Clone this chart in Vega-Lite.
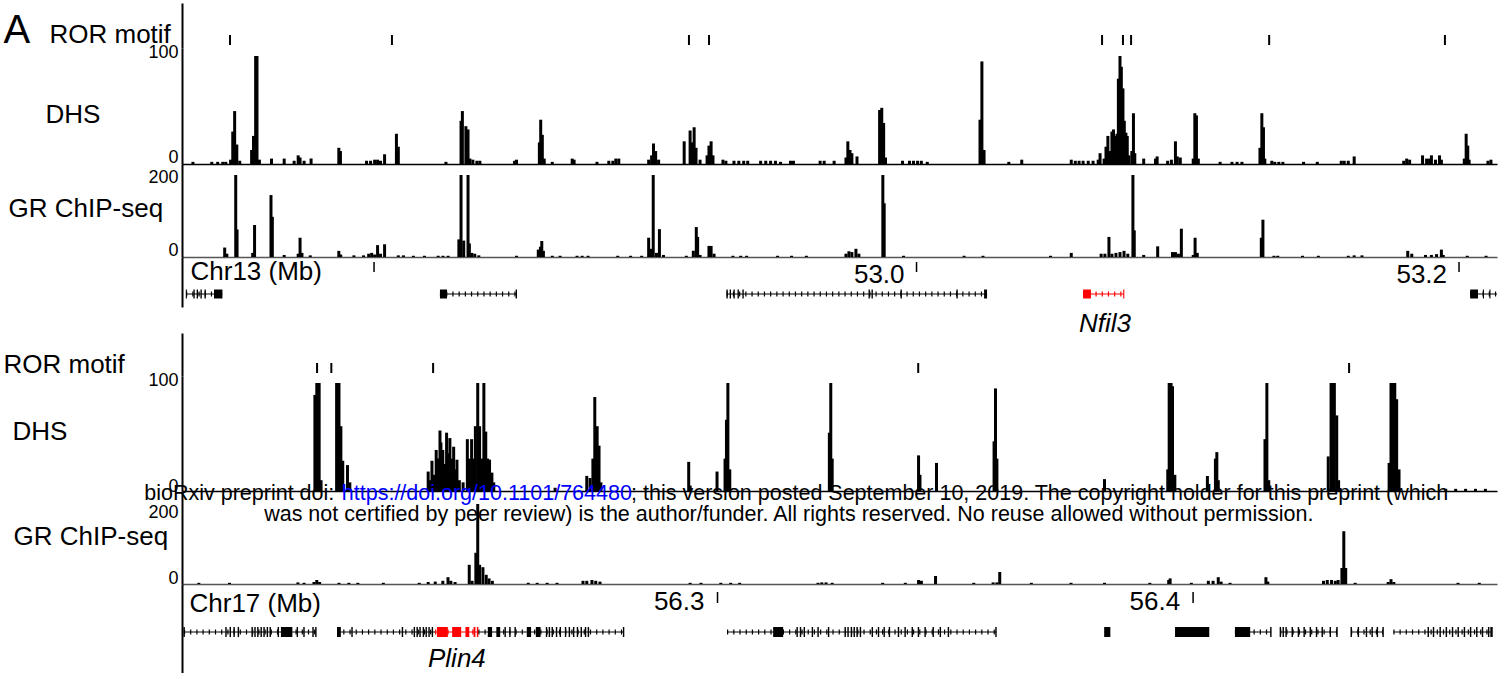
{
"$schema":"https://vega.github.io/schema/vega-lite/v6.json",
"padding":{"left":3,"top":3,"right":5,"bottom":0},
"background":"white",
"bounds":"flush",
"spacing":0,
"resolve":{"scale":{"x":"independent","y":"independent"},"axis":{"x":"independent","y":"independent"}},
"config":{"font":"Liberation Sans","view":{"stroke":null},"axis":{"grid":false,"ticks":false,"tickSize":0,"labelColor":"black","titleColor":"black","titleFontWeight":"normal","domainColor":"black"}},
"datasets":{
"motif13":[{"p":52746.9},{"p":52806.6},{"p":52916.1},{"p":52923.5},{"p":53068.4},{"p":53076.1},{"p":53079.1},{"p":53130.0},{"p":53194.8}],
"motif17":[{"p":56215.8},{"p":56218.8},{"p":56240.2},{"p":56342.2},{"p":56432.8}],
"dhs13":[{"p":52731.4,"v":2},{"p":52738.4,"v":2},{"p":52740.6,"v":2},{"p":52742.5,"v":2},{"p":52743.6,"v":2},{"p":52745.4,"v":4},{"p":52746.2,"v":30},{"p":52746.9,"v":49},{"p":52747.7,"v":18},{"p":52748.8,"v":3},{"p":52753.2,"v":13},{"p":52753.9,"v":26},{"p":52754.7,"v":100},{"p":52755.2,"v":100},{"p":52756.1,"v":4},{"p":52760.6,"v":5},{"p":52765.3,"v":5},{"p":52769.0,"v":3},{"p":52770.5,"v":8},{"p":52771.2,"v":6},{"p":52772.7,"v":3},{"p":52775.3,"v":5},{"p":52785.6,"v":15},{"p":52786.2,"v":12},{"p":52795.9,"v":3},{"p":52797.4,"v":3},{"p":52798.9,"v":4},{"p":52800.0,"v":4},{"p":52801.1,"v":3},{"p":52802.6,"v":9},{"p":52807.0,"v":28},{"p":52807.7,"v":16},{"p":52825.4,"v":2},{"p":52831.0,"v":40},{"p":52831.5,"v":49},{"p":52832.8,"v":35},{"p":52833.6,"v":32},{"p":52834.3,"v":5},{"p":52835.4,"v":4},{"p":52836.9,"v":3},{"p":52838.0,"v":3},{"p":52850.9,"v":3},{"p":52851.6,"v":4},{"p":52860.1,"v":20},{"p":52860.6,"v":41},{"p":52861.2,"v":27},{"p":52861.9,"v":5},{"p":52864.9,"v":2},{"p":52872.3,"v":5},{"p":52873.0,"v":4},{"p":52881.5,"v":2},{"p":52885.9,"v":3},{"p":52887.4,"v":3},{"p":52888.5,"v":5},{"p":52889.6,"v":5},{"p":52900.7,"v":4},{"p":52901.8,"v":8},{"p":52902.5,"v":19},{"p":52903.3,"v":12},{"p":52904.4,"v":4},{"p":52913.9,"v":21},{"p":52916.1,"v":31},{"p":52916.9,"v":20},{"p":52917.6,"v":34},{"p":52918.3,"v":15},{"p":52919.8,"v":4},{"p":52922.4,"v":8},{"p":52923.1,"v":17},{"p":52923.9,"v":21},{"p":52924.6,"v":8},{"p":52928.3,"v":4},{"p":52929.4,"v":3},{"p":52932.4,"v":3},{"p":52934.2,"v":3},{"p":52936.0,"v":3},{"p":52937.5,"v":3},{"p":52942.3,"v":3},{"p":52944.2,"v":3},{"p":52946.0,"v":3},{"p":52947.8,"v":3},{"p":52949.7,"v":2},{"p":52953.4,"v":3},{"p":52954.5,"v":3},{"p":52964.4,"v":3},{"p":52965.9,"v":3},{"p":52969.6,"v":3},{"p":52974.0,"v":6},{"p":52974.7,"v":21},{"p":52975.5,"v":13},{"p":52976.2,"v":10},{"p":52978.1,"v":7},{"p":52986.5,"v":50},{"p":52987.3,"v":52},{"p":52988.0,"v":38},{"p":52988.7,"v":6},{"p":52995.0,"v":3},{"p":52997.6,"v":3},{"p":52999.1,"v":3},{"p":53000.6,"v":3},{"p":53002.0,"v":3},{"p":53004.2,"v":2},{"p":53023.8,"v":41},{"p":53024.5,"v":95},{"p":53025.3,"v":13},{"p":53034.5,"v":2},{"p":53039.3,"v":4},{"p":53057.7,"v":4},{"p":53059.2,"v":3},{"p":53060.6,"v":3},{"p":53062.1,"v":3},{"p":53064.0,"v":3},{"p":53065.8,"v":3},{"p":53067.7,"v":4},{"p":53068.4,"v":10},{"p":53069.9,"v":5},{"p":53070.6,"v":16},{"p":53071.3,"v":26},{"p":53072.1,"v":12},{"p":53072.8,"v":30},{"p":53073.4,"v":32},{"p":53073.9,"v":26},{"p":53074.7,"v":28},{"p":53075.2,"v":79},{"p":53075.8,"v":100},{"p":53076.3,"v":90},{"p":53076.9,"v":70},{"p":53077.4,"v":40},{"p":53078.0,"v":29},{"p":53078.5,"v":26},{"p":53079.1,"v":8},{"p":53080.2,"v":12},{"p":53080.8,"v":47},{"p":53081.3,"v":10},{"p":53084.6,"v":5},{"p":53089.0,"v":5},{"p":53089.6,"v":7},{"p":53093.5,"v":3},{"p":53094.9,"v":4},{"p":53096.4,"v":21},{"p":53097.1,"v":7},{"p":53098.2,"v":6},{"p":53103.0,"v":5},{"p":53103.6,"v":47},{"p":53104.2,"v":45},{"p":53104.9,"v":5},{"p":53113.0,"v":2},{"p":53117.4,"v":2},{"p":53119.3,"v":2},{"p":53121.1,"v":2},{"p":53127.8,"v":15},{"p":53128.5,"v":47},{"p":53129.1,"v":34},{"p":53129.6,"v":5},{"p":53132.2,"v":3},{"p":53133.3,"v":2},{"p":53134.8,"v":2},{"p":53136.3,"v":2},{"p":53144.0,"v":2},{"p":53149.1,"v":2},{"p":53158.0,"v":3},{"p":53159.1,"v":3},{"p":53160.6,"v":3},{"p":53162.8,"v":7},{"p":53181.2,"v":3},{"p":53182.3,"v":5},{"p":53183.4,"v":4},{"p":53188.2,"v":8},{"p":53189.7,"v":5},{"p":53190.8,"v":5},{"p":53191.5,"v":8},{"p":53193.0,"v":4},{"p":53194.5,"v":8},{"p":53195.2,"v":4},{"p":53203.7,"v":5},{"p":53204.4,"v":28},{"p":53205.0,"v":17},{"p":53205.5,"v":4},{"p":53212.5,"v":3},{"p":53213.6,"v":4}],
"gr13":[{"p":52743.2,"v":23},{"p":52744.0,"v":8},{"p":52747.3,"v":200},{"p":52747.8,"v":67},{"p":52753.6,"v":10},{"p":52754.3,"v":78},{"p":52760.4,"v":151},{"p":52760.9,"v":98},{"p":52765.3,"v":5},{"p":52770.5,"v":8},{"p":52771.2,"v":47},{"p":52771.9,"v":10},{"p":52775.0,"v":4},{"p":52785.6,"v":15},{"p":52786.3,"v":6},{"p":52791.2,"v":4},{"p":52794.8,"v":4},{"p":52796.7,"v":8},{"p":52797.8,"v":10},{"p":52798.9,"v":6},{"p":52800.0,"v":29},{"p":52801.1,"v":8},{"p":52802.6,"v":31},{"p":52807.7,"v":4},{"p":52809.6,"v":4},{"p":52813.3,"v":3},{"p":52817.4,"v":3},{"p":52822.5,"v":3},{"p":52824.3,"v":3},{"p":52826.2,"v":3},{"p":52830.2,"v":43},{"p":52831.0,"v":200},{"p":52832.0,"v":40},{"p":52833.6,"v":200},{"p":52834.1,"v":33},{"p":52835.0,"v":10},{"p":52836.1,"v":8},{"p":52837.6,"v":4},{"p":52851.6,"v":3},{"p":52859.7,"v":18},{"p":52860.5,"v":25},{"p":52861.0,"v":39},{"p":52861.6,"v":15},{"p":52864.9,"v":3},{"p":52867.8,"v":3},{"p":52874.1,"v":3},{"p":52876.0,"v":3},{"p":52878.2,"v":3},{"p":52889.2,"v":3},{"p":52894.0,"v":3},{"p":52898.1,"v":3},{"p":52900.7,"v":47},{"p":52901.4,"v":20},{"p":52902.4,"v":200},{"p":52903.6,"v":10},{"p":52904.7,"v":68},{"p":52906.2,"v":5},{"p":52914.7,"v":3},{"p":52917.3,"v":15},{"p":52918.4,"v":73},{"p":52918.9,"v":49},{"p":52919.8,"v":5},{"p":52923.1,"v":27},{"p":52923.9,"v":27},{"p":52925.0,"v":8},{"p":52932.0,"v":3},{"p":52934.9,"v":3},{"p":52937.1,"v":3},{"p":52948.6,"v":3},{"p":52953.8,"v":3},{"p":52959.3,"v":3},{"p":52974.0,"v":8},{"p":52975.1,"v":14},{"p":52976.2,"v":12},{"p":52977.7,"v":20},{"p":52978.8,"v":8},{"p":52987.7,"v":200},{"p":52988.2,"v":131},{"p":52995.4,"v":3},{"p":53017.9,"v":3},{"p":53024.9,"v":3},{"p":53050.0,"v":3},{"p":53057.7,"v":10},{"p":53068.8,"v":8},{"p":53070.2,"v":8},{"p":53071.7,"v":49},{"p":53072.8,"v":8},{"p":53074.3,"v":10},{"p":53075.8,"v":12},{"p":53077.3,"v":15},{"p":53078.7,"v":8},{"p":53080.6,"v":200},{"p":53081.1,"v":65},{"p":53084.6,"v":5},{"p":53089.8,"v":26},{"p":53095.3,"v":12},{"p":53096.4,"v":12},{"p":53097.5,"v":8},{"p":53098.6,"v":69},{"p":53103.0,"v":5},{"p":53103.7,"v":47},{"p":53104.5,"v":10},{"p":53128.3,"v":47},{"p":53128.9,"v":91},{"p":53133.0,"v":3},{"p":53134.4,"v":3},{"p":53143.6,"v":3},{"p":53149.5,"v":3},{"p":53160.6,"v":3},{"p":53162.8,"v":4},{"p":53165.7,"v":4},{"p":53182.7,"v":15},{"p":53184.2,"v":8},{"p":53189.3,"v":5},{"p":53191.5,"v":5},{"p":53193.4,"v":7},{"p":53195.2,"v":18},{"p":53195.9,"v":5},{"p":53204.8,"v":3},{"p":53211.8,"v":3}],
"dhs17":[{"p":56214.5,"v":89},{"p":56214.9,"v":100},{"p":56215.4,"v":100},{"p":56215.8,"v":10},{"p":56219.1,"v":100},{"p":56219.6,"v":100},{"p":56220.0,"v":60},{"p":56220.4,"v":28},{"p":56221.4,"v":24},{"p":56221.9,"v":8},{"p":56238.5,"v":18},{"p":56238.9,"v":10},{"p":56239.3,"v":28},{"p":56239.8,"v":15},{"p":56240.2,"v":38},{"p":56240.6,"v":30},{"p":56241.0,"v":56},{"p":56241.2,"v":45},{"p":56241.6,"v":38},{"p":56242.1,"v":25},{"p":56242.4,"v":54},{"p":56242.7,"v":35},{"p":56243.1,"v":49},{"p":56243.5,"v":30},{"p":56243.9,"v":41},{"p":56244.2,"v":20},{"p":56244.6,"v":29},{"p":56245.1,"v":10},{"p":56245.9,"v":8},{"p":56246.8,"v":48},{"p":56247.2,"v":30},{"p":56247.7,"v":48},{"p":56248.1,"v":30},{"p":56248.5,"v":60},{"p":56249.0,"v":100},{"p":56249.4,"v":60},{"p":56249.8,"v":30},{"p":56250.3,"v":100},{"p":56250.7,"v":55},{"p":56251.1,"v":30},{"p":56251.5,"v":29},{"p":56252.0,"v":17},{"p":56252.4,"v":8},{"p":56265.4,"v":3},{"p":56272.1,"v":14},{"p":56272.8,"v":12},{"p":56273.4,"v":30},{"p":56273.8,"v":87},{"p":56274.3,"v":60},{"p":56274.7,"v":42},{"p":56275.1,"v":8},{"p":56293.7,"v":27},{"p":56294.0,"v":5},{"p":56299.7,"v":18},{"p":56301.4,"v":30},{"p":56301.7,"v":66},{"p":56302.0,"v":100},{"p":56302.4,"v":20},{"p":56323.5,"v":54},{"p":56323.8,"v":100},{"p":56324.1,"v":30},{"p":56342.4,"v":33},{"p":56342.7,"v":15},{"p":56346.2,"v":26},{"p":56358.4,"v":46},{"p":56358.7,"v":95},{"p":56359.0,"v":30},{"p":56381.8,"v":11},{"p":56395.2,"v":20},{"p":56395.5,"v":100},{"p":56395.9,"v":100},{"p":56396.2,"v":97},{"p":56396.7,"v":15},{"p":56403.6,"v":14},{"p":56405.3,"v":30},{"p":56405.6,"v":36},{"p":56405.9,"v":10},{"p":56415.8,"v":48},{"p":56416.2,"v":100},{"p":56416.6,"v":10},{"p":56429.2,"v":32},{"p":56429.8,"v":100},{"p":56430.1,"v":100},{"p":56430.5,"v":100},{"p":56431.0,"v":70},{"p":56431.4,"v":10},{"p":56442.1,"v":26},{"p":56442.5,"v":100},{"p":56442.9,"v":100},{"p":56443.3,"v":100},{"p":56443.7,"v":85},{"p":56444.2,"v":20},{"p":56454.1,"v":2},{"p":56456.2,"v":2},{"p":56458.3,"v":2},{"p":56460.4,"v":2},{"p":56462.5,"v":2}],
"gr17":[{"p":56189.9,"v":3},{"p":56196.4,"v":3},{"p":56210.9,"v":4},{"p":56212.2,"v":3},{"p":56214.3,"v":5},{"p":56214.9,"v":10},{"p":56215.5,"v":5},{"p":56219.6,"v":3},{"p":56221.7,"v":3},{"p":56223.6,"v":3},{"p":56229.0,"v":3},{"p":56236.6,"v":3},{"p":56238.5,"v":5},{"p":56240.0,"v":6},{"p":56241.6,"v":8},{"p":56242.7,"v":17},{"p":56243.3,"v":8},{"p":56244.2,"v":5},{"p":56247.2,"v":48},{"p":56247.8,"v":8},{"p":56248.6,"v":78},{"p":56249.0,"v":200},{"p":56249.4,"v":48},{"p":56250.1,"v":42},{"p":56250.8,"v":23},{"p":56251.4,"v":14},{"p":56252.1,"v":8},{"p":56259.7,"v":3},{"p":56261.6,"v":3},{"p":56263.7,"v":3},{"p":56265.8,"v":3},{"p":56271.3,"v":8},{"p":56272.1,"v":8},{"p":56273.2,"v":10},{"p":56274.0,"v":8},{"p":56274.9,"v":6},{"p":56294.0,"v":3},{"p":56296.3,"v":3},{"p":56300.5,"v":3},{"p":56302.6,"v":3},{"p":56304.5,"v":3},{"p":56321.1,"v":3},{"p":56321.9,"v":4},{"p":56322.8,"v":4},{"p":56324.1,"v":3},{"p":56334.8,"v":3},{"p":56339.6,"v":3},{"p":56342.4,"v":10},{"p":56343.0,"v":8},{"p":56346.0,"v":20},{"p":56354.1,"v":3},{"p":56358.2,"v":4},{"p":56359.0,"v":4},{"p":56359.6,"v":30},{"p":56366.3,"v":3},{"p":56374.7,"v":3},{"p":56381.8,"v":3},{"p":56391.4,"v":3},{"p":56395.4,"v":10},{"p":56395.7,"v":14},{"p":56400.2,"v":3},{"p":56403.8,"v":8},{"p":56404.8,"v":8},{"p":56405.9,"v":17},{"p":56406.5,"v":6},{"p":56408.4,"v":3},{"p":56416.0,"v":17},{"p":56416.4,"v":6},{"p":56428.2,"v":8},{"p":56429.0,"v":10},{"p":56429.9,"v":10},{"p":56430.7,"v":8},{"p":56431.3,"v":10},{"p":56432.1,"v":40},{"p":56432.5,"v":132},{"p":56432.9,"v":40},{"p":56434.9,"v":3},{"p":56441.9,"v":5},{"p":56442.5,"v":12},{"p":56443.1,"v":5},{"p":56456.7,"v":3},{"p":56461.2,"v":3}],
"intron13":[{"s":52730.7,"e":52744.1,"g":"a"},{"s":52824.3,"e":52852.7,"g":"b"},{"s":52930.0,"e":53026.0,"g":"c"},{"s":53061.4,"e":53076.5,"g":"Nfil3"},{"s":53204.1,"e":53214.0,"g":"d"}],
"exon13":[{"s":52730.6,"e":52731.0,"g":"a"},{"s":52733.4,"e":52733.9,"g":"a"},{"s":52734.6,"e":52735.1,"g":"a"},{"s":52736.0,"e":52736.5,"g":"a"},{"s":52737.5,"e":52738.0,"g":"a"},{"s":52741.0,"e":52744.1,"g":"a"},{"s":52824.3,"e":52826.9,"g":"b"},{"s":52852.2,"e":52852.7,"g":"b"},{"s":52929.9,"e":52930.4,"g":"c"},{"s":52931.1,"e":52931.6,"g":"c"},{"s":52932.5,"e":52933.0,"g":"c"},{"s":52934.0,"e":52934.5,"g":"c"},{"s":52935.8,"e":52936.3,"g":"c"},{"s":52982.3,"e":52982.8,"g":"c"},{"s":52983.4,"e":52983.9,"g":"c"},{"s":52994.1,"e":52994.6,"g":"c"},{"s":53014.7,"e":53015.2,"g":"c"},{"s":53024.9,"e":53026.0,"g":"c"},{"s":53061.4,"e":53064.3,"g":"Nfil3"},{"s":53076.2,"e":53076.6,"g":"Nfil3"},{"s":53204.1,"e":53207.0,"g":"d"},{"s":53208.8,"e":53209.2,"g":"d"},{"s":53211.2,"e":53211.6,"g":"d"}],
"ticks13":[{"s":52800,"l":""},{"s":53000,"l":"53.0"},{"s":53200,"l":"53.2"}],
"intron17":[{"s":56187.8,"e":56215.6,"g":"a"},{"s":56220.0,"e":56240.6,"g":"b"},{"s":56240.6,"e":56249.7,"g":"Plin4"},{"s":56249.7,"e":56280.3,"g":"b"},{"s":56302.0,"e":56358.6,"g":"c"},{"s":56408.8,"e":56416.4,"g":"d"},{"s":56418.3,"e":56430.3,"g":"e"},{"s":56433.2,"e":56439.9,"g":"f"},{"s":56442.1,"e":56462.8,"g":"h"}],
"exon17":[{"s":56187.7,"e":56188.0,"g":"a"},{"s":56196.5,"e":56196.8,"g":"a"},{"s":56197.4,"e":56197.7,"g":"a"},{"s":56198.2,"e":56198.5,"g":"a"},{"s":56199.1,"e":56199.4,"g":"a"},{"s":56202.0,"e":56202.3,"g":"a"},{"s":56202.6,"e":56202.9,"g":"a"},{"s":56203.2,"e":56203.5,"g":"a"},{"s":56203.9,"e":56204.2,"g":"a"},{"s":56204.5,"e":56204.8,"g":"a"},{"s":56205.2,"e":56205.5,"g":"a"},{"s":56205.8,"e":56206.1,"g":"a"},{"s":56207.5,"e":56207.8,"g":"a"},{"s":56208.2,"e":56210.6,"g":"a"},{"s":56211.5,"e":56211.8,"g":"a"},{"s":56212.9,"e":56213.2,"g":"a"},{"s":56214.8,"e":56215.1,"g":"a"},{"s":56215.4,"e":56215.7,"g":"a"},
{"s":56220.0,"e":56220.8,"g":"b"},{"s":56223.0,"e":56223.3,"g":"b"},{"s":56233.6,"e":56233.9,"g":"b"},{"s":56236.1,"e":56236.4,"g":"b"},{"s":56236.7,"e":56237.0,"g":"b"},{"s":56237.3,"e":56237.6,"g":"b"},{"s":56238.0,"e":56238.3,"g":"b"},{"s":56238.6,"e":56238.9,"g":"b"},{"s":56239.2,"e":56239.5,"g":"b"},{"s":56239.9,"e":56240.2,"g":"b"},{"s":56241.0,"e":56243.3,"g":"Plin4"},{"s":56244.2,"e":56246.1,"g":"Plin4"},{"s":56247.0,"e":56247.8,"g":"Plin4"},{"s":56248.7,"e":56249.1,"g":"Plin4"},{"s":56249.4,"e":56249.7,"g":"Plin4"},{"s":56251.7,"e":56252.6,"g":"b"},{"s":56253.5,"e":56254.3,"g":"b"},{"s":56255.2,"e":56255.5,"g":"b"},{"s":56256.2,"e":56256.5,"g":"b"},{"s":56257.3,"e":56257.6,"g":"b"},{"s":56259.9,"e":56260.8,"g":"b"},{"s":56261.8,"e":56262.8,"g":"b"},{"s":56263.9,"e":56264.2,"g":"b"},{"s":56264.5,"e":56264.8,"g":"b"},{"s":56265.1,"e":56265.4,"g":"b"},{"s":56266.0,"e":56266.3,"g":"b"},{"s":56266.8,"e":56267.1,"g":"b"},{"s":56267.9,"e":56268.2,"g":"b"},{"s":56268.7,"e":56269.0,"g":"b"},{"s":56269.6,"e":56269.9,"g":"b"},{"s":56270.4,"e":56270.7,"g":"b"},{"s":56271.2,"e":56271.5,"g":"b"},{"s":56272.1,"e":56272.4,"g":"b"},{"s":56272.7,"e":56273.0,"g":"b"},{"s":56280.1,"e":56280.4,"g":"b"},
{"s":56311.7,"e":56313.8,"g":"c"},{"s":56316.6,"e":56316.9,"g":"c"},{"s":56317.3,"e":56317.6,"g":"c"},{"s":56318.1,"e":56318.4,"g":"c"},{"s":56319.8,"e":56320.1,"g":"c"},{"s":56321.0,"e":56321.3,"g":"c"},{"s":56323.2,"e":56323.5,"g":"c"},{"s":56326.7,"e":56327.0,"g":"c"},{"s":56327.3,"e":56327.6,"g":"c"},{"s":56328.0,"e":56328.3,"g":"c"},{"s":56328.6,"e":56328.9,"g":"c"},{"s":56329.2,"e":56329.5,"g":"c"},{"s":56329.9,"e":56330.2,"g":"c"},{"s":56332.4,"e":56332.7,"g":"c"},{"s":56333.7,"e":56334.0,"g":"c"},{"s":56334.9,"e":56335.2,"g":"c"},{"s":56336.0,"e":56336.3,"g":"c"},{"s":56337.9,"e":56338.2,"g":"c"},{"s":56339.3,"e":56339.6,"g":"c"},{"s":56340.8,"e":56341.1,"g":"c"},{"s":56342.1,"e":56342.4,"g":"c"},{"s":56343.5,"e":56343.8,"g":"c"},{"s":56345.2,"e":56345.5,"g":"c"},{"s":56346.7,"e":56347.0,"g":"c"},{"s":56348.4,"e":56348.7,"g":"c"},{"s":56358.4,"e":56358.7,"g":"c"},
{"s":56381.3,"e":56382.6,"g":"x"},{"s":56396.2,"e":56403.4,"g":"y"},
{"s":56408.8,"e":56412.0,"g":"d"},{"s":56416.2,"e":56416.5,"g":"d"},
{"s":56418.2,"e":56418.5,"g":"e"},{"s":56418.8,"e":56419.1,"g":"e"},{"s":56419.4,"e":56419.7,"g":"e"},{"s":56420.7,"e":56421.0,"g":"e"},{"s":56422.0,"e":56422.3,"g":"e"},{"s":56423.2,"e":56423.5,"g":"e"},{"s":56424.5,"e":56424.8,"g":"e"},{"s":56425.8,"e":56426.1,"g":"e"},{"s":56427.0,"e":56427.3,"g":"e"},{"s":56428.7,"e":56429.0,"g":"e"},{"s":56430.1,"e":56430.4,"g":"e"},
{"s":56433.1,"e":56433.4,"g":"f"},{"s":56434.6,"e":56434.9,"g":"f"},{"s":56436.3,"e":56436.6,"g":"f"},{"s":56437.5,"e":56437.8,"g":"f"},{"s":56438.6,"e":56438.9,"g":"f"},{"s":56439.8,"e":56440.1,"g":"f"},
{"s":56449.3,"e":56449.6,"g":"h"},{"s":56450.4,"e":56450.7,"g":"h"},{"s":56451.8,"e":56452.1,"g":"h"},{"s":56453.1,"e":56453.4,"g":"h"},{"s":56454.4,"e":56454.7,"g":"h"},{"s":56455.6,"e":56455.9,"g":"h"},{"s":56456.9,"e":56457.2,"g":"h"},{"s":56458.2,"e":56458.5,"g":"h"},{"s":56459.5,"e":56459.8,"g":"h"},{"s":56460.7,"e":56461.0,"g":"h"},{"s":56462.0,"e":56462.3,"g":"h"},{"s":56462.5,"e":56463.0,"g":"h"}],
"ticks17":[{"s":56300,"l":"56.3"},{"s":56400,"l":"56.4"}]
},
"vconcat":[
{"width":1315,"height":45,"data":{"name":"motif13"},"mark":{"type":"rule","strokeWidth":2,"color":"black"},
 "encoding":{
  "x":{"field":"p","type":"quantitative","scale":{"domain":[52729.2,53214.0],"nice":false,"zero":false},"axis":{"title":"A","labels":false,"domain":false,"titleFontSize":40,"titleX":-179,"titleY":-6,"titleAlign":"left","titleBaseline":"alphabetic"}},
  "y":{"datum":3,"type":"quantitative","scale":{"domain":[0,45],"nice":false},"axis":{"title":"ROR motif","labels":false,"domainColor":"black","domainWidth":2,"titleAngle":0,"titleFontSize":26,"titleX":-133,"titleY":39,"titleAlign":"left","titleBaseline":"alphabetic"}},
  "y2":{"datum":13}}},
{"width":1315,"height":116,"data":{"name":"dhs13"},"mark":{"type":"bar","orient":"vertical","width":3,"color":"black"},
 "encoding":{
  "x":{"field":"p","type":"quantitative","scale":{"domain":[52729.2,53214.0],"nice":false,"zero":false},"axis":{"title":null,"labels":false,"domain":true,"domainColor":"black","domainWidth":1.5}},
  "y":{"field":"v","type":"quantitative","scale":{"domain":[0,107.4],"nice":false},"axis":{"values":[0,100],"labelFontSize":18,"labelPadding":4,"labelBaseline":"alphabetic","labelOffset":{"condition":{"test":"datum.value == 0","value":-2},"value":2},"domainColor":"black","domainWidth":2,"title":"DHS","titleAngle":0,"titleFontSize":26,"titleX":-137,"titleY":74,"titleAlign":"left","titleBaseline":"alphabetic"}}}},
{"width":1315,"height":93,"data":{"name":"gr13"},"mark":{"type":"bar","orient":"vertical","width":3,"color":"black"},
 "encoding":{
  "x":{"field":"p","type":"quantitative","scale":{"domain":[52729.2,53214.0],"nice":false,"zero":false},"axis":{"title":null,"labels":false,"domain":true,"domainColor":"#555555","domainWidth":1.5}},
  "y":{"field":"v","type":"quantitative","scale":{"domain":[0,226.8],"nice":false},"axis":{"values":[0,200],"labelFontSize":18,"labelPadding":4,"labelBaseline":"alphabetic","labelOffset":{"condition":{"test":"datum.value == 0","value":-2},"value":8},"domainColor":"black","domainWidth":2,"title":"GR ChIP-seq","titleAngle":0,"titleFontSize":26,"titleX":-174,"titleY":52,"titleAlign":"left","titleBaseline":"alphabetic"}}}},
{"width":1315,"height":50,"layer":[
 {"data":{"name":"intron13"},"mark":{"type":"rule","strokeWidth":1},
  "encoding":{
   "x":{"field":"s","type":"quantitative","scale":{"domain":[52729.2,53214.0],"nice":false,"zero":false},"axis":{"title":"Chr13 (Mb)","labels":false,"domain":false,"titleFontSize":26,"titleX":8,"titleY":-28,"titleAlign":"left","titleBaseline":"alphabetic"}},
   "x2":{"field":"e"},
   "y":{"datum":13,"type":"quantitative","scale":{"domain":[0,50],"nice":false},"axis":{"title":null,"labels":false,"domainColor":"black","domainWidth":2}},
   "color":{"condition":{"test":"datum.g == 'Nfil3' || datum.g == 'Plin4'","value":"#ff0000"},"value":"black"}}},
 {"data":{"name":"intron13"},"mark":{"type":"rule","strokeWidth":5,"strokeDash":[1.2,5]},
  "encoding":{
   "x":{"field":"s","type":"quantitative","scale":{"domain":[52729.2,53214.0],"nice":false,"zero":false},"axis":{"title":"Chr13 (Mb)","labels":false,"domain":false,"titleFontSize":26,"titleX":8,"titleY":-28,"titleAlign":"left","titleBaseline":"alphabetic"}},
   "x2":{"field":"e"},
   "y":{"datum":13,"type":"quantitative","scale":{"domain":[0,50],"nice":false},"axis":{"title":null,"labels":false,"domainColor":"black","domainWidth":2}},
   "color":{"condition":{"test":"datum.g == 'Nfil3' || datum.g == 'Plin4'","value":"#ff0000"},"value":"black"}}},
 {"data":{"name":"exon13"},"mark":{"type":"rect"},
  "encoding":{
   "x":{"field":"s","type":"quantitative","scale":{"domain":[52729.2,53214.0],"nice":false,"zero":false},"axis":{"title":"Chr13 (Mb)","labels":false,"domain":false,"titleFontSize":26,"titleX":8,"titleY":-28,"titleAlign":"left","titleBaseline":"alphabetic"}},
   "x2":{"field":"e"},
   "y":{"datum":8.5,"type":"quantitative","scale":{"domain":[0,50],"nice":false},"axis":{"title":null,"labels":false,"domainColor":"black","domainWidth":2}},
   "y2":{"datum":17.5},
   "color":{"condition":{"test":"datum.g == 'Nfil3' || datum.g == 'Plin4'","value":"#ff0000"},"value":"black"}}},
 {"data":{"name":"ticks13"},"mark":{"type":"rule","strokeWidth":1.5,"color":"black"},
  "encoding":{
   "x":{"field":"s","type":"quantitative","scale":{"domain":[52729.2,53214.0],"nice":false,"zero":false},"axis":{"title":"Chr13 (Mb)","labels":false,"domain":false,"titleFontSize":26,"titleX":8,"titleY":-28,"titleAlign":"left","titleBaseline":"alphabetic"}},
   "y":{"datum":35,"type":"quantitative","scale":{"domain":[0,50],"nice":false},"axis":{"title":null,"labels":false,"domainColor":"black","domainWidth":2}},
   "y2":{"datum":45}}},
 {"data":{"name":"ticks13"},"mark":{"type":"text","align":"right","baseline":"alphabetic","dx":-12,"fontSize":26,"color":"black"},
  "encoding":{
   "x":{"field":"s","type":"quantitative","scale":{"domain":[52729.2,53214.0],"nice":false,"zero":false},"axis":{"title":"Chr13 (Mb)","labels":false,"domain":false,"titleFontSize":26,"titleX":8,"titleY":-28,"titleAlign":"left","titleBaseline":"alphabetic"}},
   "y":{"datum":24,"type":"quantitative","scale":{"domain":[0,50],"nice":false},"axis":{"title":null,"labels":false,"domainColor":"black","domainWidth":2}},
   "text":{"field":"l"}}}
]},
{"width":1315,"height":26,"data":{"values":[{"name":"Nfil3"}]},"mark":{"type":"text","align":"center","baseline":"alphabetic","fontSize":26,"fontStyle":"italic","color":"black"},
 "encoding":{
  "x":{"datum":53069.5,"type":"quantitative","scale":{"domain":[52729.2,53214.0],"nice":false,"zero":false},"axis":null},
  "y":{"datum":1,"type":"quantitative","scale":{"domain":[0,26],"nice":false},"axis":null},
  "text":{"field":"name"}}},
{"width":1315,"height":43,"data":{"name":"motif17"},"mark":{"type":"rule","strokeWidth":2,"color":"black"},
 "encoding":{
  "x":{"field":"p","type":"quantitative","scale":{"domain":[56187.4,56463.9],"nice":false,"zero":false},"axis":null},
  "y":{"datum":3,"type":"quantitative","scale":{"domain":[0,43],"nice":false},"axis":{"title":"ROR motif","labels":false,"domainColor":"black","domainWidth":2,"titleAngle":0,"titleFontSize":26,"titleX":-179,"titleY":39,"titleAlign":"left","titleBaseline":"alphabetic"}},
  "y2":{"datum":13}}},
{"width":1315,"height":115,"data":{"name":"dhs17"},"mark":{"type":"bar","orient":"vertical","width":3,"color":"black"},
 "encoding":{
  "x":{"field":"p","type":"quantitative","scale":{"domain":[56187.4,56463.9],"nice":false,"zero":false},"axis":{"title":null,"labels":false,"domain":true,"domainColor":"black","domainWidth":1.5}},
  "y":{"field":"v","type":"quantitative","scale":{"domain":[0,106.5],"nice":false},"axis":{"values":[0,100],"labelFontSize":18,"labelPadding":4,"labelBaseline":"alphabetic","labelOffset":{"condition":{"test":"datum.value == 0","value":0},"value":2},"domainColor":"black","domainWidth":2,"title":"DHS","titleAngle":0,"titleFontSize":26,"titleX":-170,"titleY":63,"titleAlign":"left","titleBaseline":"alphabetic"}}}},
{"width":1315,"height":93,"layer":[
 {"data":{"name":"gr17"},"mark":{"type":"bar","orient":"vertical","width":3,"color":"black"},
  "encoding":{
   "x":{"field":"p","type":"quantitative","scale":{"domain":[56187.4,56463.9],"nice":false,"zero":false},"axis":{"title":null,"labels":false,"domain":true,"domainColor":"#555555","domainWidth":1.5}},
   "y":{"field":"v","type":"quantitative","scale":{"domain":[0,232.5],"nice":false},"axis":{"values":[0,200],"labelFontSize":18,"labelPadding":4,"labelBaseline":"alphabetic","labelOffset":{"condition":{"test":"datum.value == 0","value":-1},"value":13},"domainColor":"black","domainWidth":2,"title":"GR ChIP-seq","titleAngle":0,"titleFontSize":26,"titleX":-169,"titleY":53,"titleAlign":"left","titleBaseline":"alphabetic"}}}},
 {"data":{"values":[{"t":"bioRxiv preprint doi:"}]},"mark":{"type":"text","align":"right","baseline":"alphabetic","fontSize":21.5,"color":"black"},
  "encoding":{
   "x":{"datum":56218.6,"type":"quantitative","scale":{"domain":[56187.4,56463.9],"nice":false,"zero":false},"axis":{"title":null,"labels":false,"domain":true,"domainColor":"#555555","domainWidth":1.5}},
   "y":{"datum":210,"type":"quantitative","scale":{"domain":[0,232.5],"nice":false},"axis":{"values":[0,200],"labelFontSize":18,"labelPadding":4,"labelBaseline":"alphabetic","labelOffset":{"condition":{"test":"datum.value == 0","value":-1},"value":13},"domainColor":"black","domainWidth":2,"title":"GR ChIP-seq","titleAngle":0,"titleFontSize":26,"titleX":-169,"titleY":53,"titleAlign":"left","titleBaseline":"alphabetic"}},
   "text":{"field":"t"}}},
 {"data":{"values":[{"t":"https://doi.org/10.1101/764480"}]},"mark":{"type":"text","align":"left","baseline":"alphabetic","fontSize":21.5,"color":"#0000ff"},
  "encoding":{
   "x":{"datum":56220.2,"type":"quantitative","scale":{"domain":[56187.4,56463.9],"nice":false,"zero":false},"axis":{"title":null,"labels":false,"domain":true,"domainColor":"#555555","domainWidth":1.5}},
   "y":{"datum":210,"type":"quantitative","scale":{"domain":[0,232.5],"nice":false},"axis":{"values":[0,200],"labelFontSize":18,"labelPadding":4,"labelBaseline":"alphabetic","labelOffset":{"condition":{"test":"datum.value == 0","value":-1},"value":13},"domainColor":"black","domainWidth":2,"title":"GR ChIP-seq","titleAngle":0,"titleFontSize":26,"titleX":-169,"titleY":53,"titleAlign":"left","titleBaseline":"alphabetic"}},
   "text":{"field":"t"}}},
 {"data":{"values":[{"t":"; this version posted September 10, 2019. The copyright holder for this preprint (which"}]},"mark":{"type":"text","align":"left","baseline":"alphabetic","fontSize":21.5,"color":"black"},
  "encoding":{
   "x":{"datum":56281.5,"type":"quantitative","scale":{"domain":[56187.4,56463.9],"nice":false,"zero":false},"axis":{"title":null,"labels":false,"domain":true,"domainColor":"#555555","domainWidth":1.5}},
   "y":{"datum":210,"type":"quantitative","scale":{"domain":[0,232.5],"nice":false},"axis":{"values":[0,200],"labelFontSize":18,"labelPadding":4,"labelBaseline":"alphabetic","labelOffset":{"condition":{"test":"datum.value == 0","value":-1},"value":13},"domainColor":"black","domainWidth":2,"title":"GR ChIP-seq","titleAngle":0,"titleFontSize":26,"titleX":-169,"titleY":53,"titleAlign":"left","titleBaseline":"alphabetic"}},
   "text":{"field":"t"}}},
 {"data":{"values":[{"t":"was not certified by peer review) is the author/funder. All rights reserved. No reuse allowed without permission."}]},"mark":{"type":"text","align":"center","baseline":"alphabetic","fontSize":21.5,"color":"black"},
  "encoding":{
   "x":{"datum":56314.9,"type":"quantitative","scale":{"domain":[56187.4,56463.9],"nice":false,"zero":false},"axis":{"title":null,"labels":false,"domain":true,"domainColor":"#555555","domainWidth":1.5}},
   "y":{"datum":157,"type":"quantitative","scale":{"domain":[0,232.5],"nice":false},"axis":{"values":[0,200],"labelFontSize":18,"labelPadding":4,"labelBaseline":"alphabetic","labelOffset":{"condition":{"test":"datum.value == 0","value":-1},"value":13},"domainColor":"black","domainWidth":2,"title":"GR ChIP-seq","titleAngle":0,"titleFontSize":26,"titleX":-169,"titleY":53,"titleAlign":"left","titleBaseline":"alphabetic"}},
   "text":{"field":"t"}}}
]},
{"width":1315,"height":89,"layer":[
 {"data":{"name":"intron17"},"mark":{"type":"rule","strokeWidth":1},
  "encoding":{
   "x":{"field":"s","type":"quantitative","scale":{"domain":[56187.4,56463.9],"nice":false,"zero":false},"axis":{"title":"Chr17 (Mb)","labels":false,"domain":false,"titleFontSize":26,"titleX":7,"titleY":-62,"titleAlign":"left","titleBaseline":"alphabetic"}},
   "x2":{"field":"e"},
   "y":{"datum":41,"type":"quantitative","scale":{"domain":[0,89],"nice":false},"axis":{"title":null,"labels":false,"domainColor":"black","domainWidth":2}},
   "color":{"condition":{"test":"datum.g == 'Nfil3' || datum.g == 'Plin4'","value":"#ff0000"},"value":"black"}}},
 {"data":{"name":"intron17"},"mark":{"type":"rule","strokeWidth":5,"strokeDash":[1.2,5]},
  "encoding":{
   "x":{"field":"s","type":"quantitative","scale":{"domain":[56187.4,56463.9],"nice":false,"zero":false},"axis":{"title":"Chr17 (Mb)","labels":false,"domain":false,"titleFontSize":26,"titleX":7,"titleY":-62,"titleAlign":"left","titleBaseline":"alphabetic"}},
   "x2":{"field":"e"},
   "y":{"datum":41,"type":"quantitative","scale":{"domain":[0,89],"nice":false},"axis":{"title":null,"labels":false,"domainColor":"black","domainWidth":2}},
   "color":{"condition":{"test":"datum.g == 'Nfil3' || datum.g == 'Plin4'","value":"#ff0000"},"value":"black"}}},
 {"data":{"name":"exon17"},"mark":{"type":"rect"},
  "encoding":{
   "x":{"field":"s","type":"quantitative","scale":{"domain":[56187.4,56463.9],"nice":false,"zero":false},"axis":{"title":"Chr17 (Mb)","labels":false,"domain":false,"titleFontSize":26,"titleX":7,"titleY":-62,"titleAlign":"left","titleBaseline":"alphabetic"}},
   "x2":{"field":"e"},
   "y":{"datum":36,"type":"quantitative","scale":{"domain":[0,89],"nice":false},"axis":{"title":null,"labels":false,"domainColor":"black","domainWidth":2}},
   "y2":{"datum":46},
   "color":{"condition":{"test":"datum.g == 'Nfil3' || datum.g == 'Plin4'","value":"#ff0000"},"value":"black"}}},
 {"data":{"name":"ticks17"},"mark":{"type":"rule","strokeWidth":1.5,"color":"black"},
  "encoding":{
   "x":{"field":"s","type":"quantitative","scale":{"domain":[56187.4,56463.9],"nice":false,"zero":false},"axis":{"title":"Chr17 (Mb)","labels":false,"domain":false,"titleFontSize":26,"titleX":7,"titleY":-62,"titleAlign":"left","titleBaseline":"alphabetic"}},
   "y":{"datum":70,"type":"quantitative","scale":{"domain":[0,89],"nice":false},"axis":{"title":null,"labels":false,"domainColor":"black","domainWidth":2}},
   "y2":{"datum":81}}},
 {"data":{"name":"ticks17"},"mark":{"type":"text","align":"right","baseline":"alphabetic","dx":-13,"fontSize":26,"color":"black"},
  "encoding":{
   "x":{"field":"s","type":"quantitative","scale":{"domain":[56187.4,56463.9],"nice":false,"zero":false},"axis":{"title":"Chr17 (Mb)","labels":false,"domain":false,"titleFontSize":26,"titleX":7,"titleY":-62,"titleAlign":"left","titleBaseline":"alphabetic"}},
   "y":{"datum":63,"type":"quantitative","scale":{"domain":[0,89],"nice":false},"axis":{"title":null,"labels":false,"domainColor":"black","domainWidth":2}},
   "text":{"field":"l"}}},
 {"data":{"values":[{"name":"Plin4"}]},"mark":{"type":"text","align":"center","baseline":"alphabetic","fontSize":26,"fontStyle":"italic","color":"black"},
  "encoding":{
   "x":{"datum":56245.2,"type":"quantitative","scale":{"domain":[56187.4,56463.9],"nice":false,"zero":false},"axis":{"title":"Chr17 (Mb)","labels":false,"domain":false,"titleFontSize":26,"titleX":7,"titleY":-62,"titleAlign":"left","titleBaseline":"alphabetic"}},
   "y":{"datum":6,"type":"quantitative","scale":{"domain":[0,89],"nice":false},"axis":{"title":null,"labels":false,"domainColor":"black","domainWidth":2}},
   "text":{"field":"name"}}}
]}
]
}
